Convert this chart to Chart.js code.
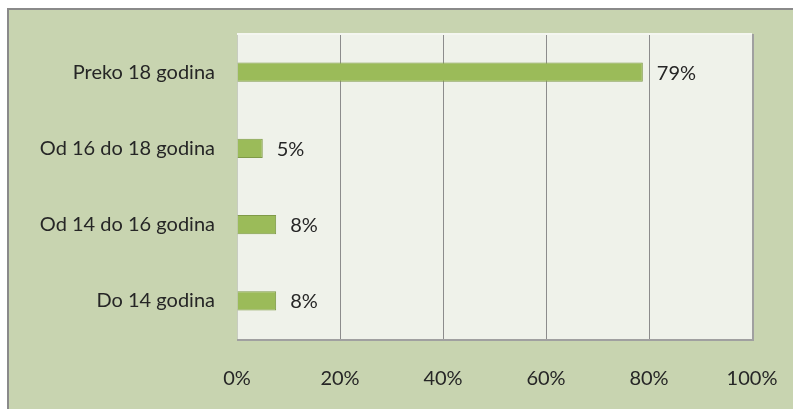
<!DOCTYPE html>
<html>
  <head>
    <script src="https://cdn.jsdelivr.net/npm/chart.js@4.4.0/dist/chart.umd.min.js"></script>
    <style>
      body { margin: 0; background: #ffffff; }
      #frame {
        position: absolute;
        left: 7px;
        top: 8px;
        width: 784px;
        height: 399px;
        border-top: 2px solid #8a8a8a;
        border-left: 2px solid #8a8a8a;
        background: #c8d4b0;
      }
    </style>
  </head>
  <body>
    <div id="frame"><canvas id="chart" width="784" height="399"></canvas></div>
    <script>
      // INPUT DATA
      const categories = ["Preko 18 godina", "Od 16 do 18 godina", "Od 14 do 16 godina", "Do 14 godina"];
      const shares = [78.8, 5.0, 7.6, 7.6];
      const shareLabels = ["79%", "5%", "8%", "8%"];
      const xTicks = [0, 20, 40, 60, 80, 100];

      const FONT = { family: "Lato", size: 20 };

      // plot area background + 3d-ish edge
      const plotBg = {
        id: "plotBg",
        beforeDraw(chart) {
          const a = chart.chartArea, ctx = chart.ctx;
          ctx.save();
          ctx.fillStyle = "#eff2ea";
          ctx.fillRect(a.left, a.top, a.right - a.left, a.bottom - a.top);
          ctx.restore();
        },
        afterDraw(chart) {
          const a = chart.chartArea, ctx = chart.ctx;
          ctx.save();
          ctx.strokeStyle = "#f4f6f0";
          ctx.lineWidth = 2;
          ctx.beginPath();
          ctx.moveTo(a.left, a.top);
          ctx.lineTo(a.right, a.top);
          ctx.stroke();
          ctx.strokeStyle = "#a0a0a0";
          ctx.lineWidth = 2;
          ctx.beginPath();
          ctx.moveTo(a.right + 1, a.top);
          ctx.lineTo(a.right + 1, a.bottom + 1);
          ctx.lineTo(a.left, a.bottom + 1);
          ctx.stroke();
          ctx.restore();
        }
      };

      // value labels at bar ends
      const barLabels = {
        id: "barLabels",
        afterDatasetsDraw(chart) {
          const ctx = chart.ctx;
          const meta = chart.getDatasetMeta(0);
          ctx.save();
          ctx.font = FONT.size + "px " + FONT.family;
          ctx.fillStyle = "#262626";
          ctx.textAlign = "left";
          ctx.textBaseline = "middle";
          meta.data.forEach(function (bar, i) {
            ctx.fillText(shareLabels[i], bar.x + 14, bar.y + 1);
          });
          ctx.restore();
        }
      };

      new Chart(document.getElementById("chart"), {
        type: "bar",
        data: {
          labels: categories,
          datasets: [{
            data: shares,
            backgroundColor: "#9bbb59",
            borderColor: "#7f9a48",
            borderWidth: 1,
            barPercentage: 0.5,
            categoryPercentage: 0.5
          }]
        },
        options: {
          indexAxis: "y",
          responsive: false,
          animation: false,
          layout: { padding: { top: 24, right: 41, left: 0, bottom: 0 } },
          plugins: { legend: { display: false }, tooltip: { enabled: false } },
          scales: {
            x: {
              min: 0,
              max: 100,
              afterBuildTicks(scale) {
                scale.ticks = xTicks.map(function (v) { return { value: v }; });
              },
              afterFit(scale) {
                scale.height = 70;
                scale.paddingLeft = 0;
                scale.paddingRight = 0;
              },
              ticks: {
                padding: 28,
                color: "#262626",
                font: FONT,
                callback: function (v) { return v + "%"; }
              },
              grid: { color: "#8c8c8c", drawTicks: false },
              border: { display: true, color: "#a0a0a0" }
            },
            y: {
              afterFit(scale) {
                scale.width = 228;
                scale.paddingTop = 0;
                scale.paddingBottom = 0;
              },
              ticks: { padding: 22, color: "#262626", font: FONT },
              grid: { display: false, drawTicks: false },
              border: { display: true, color: "#c8ccc0" }
            }
          }
        },
        plugins: [plotBg, barLabels]
      });
    </script>
  </body>
</html>
